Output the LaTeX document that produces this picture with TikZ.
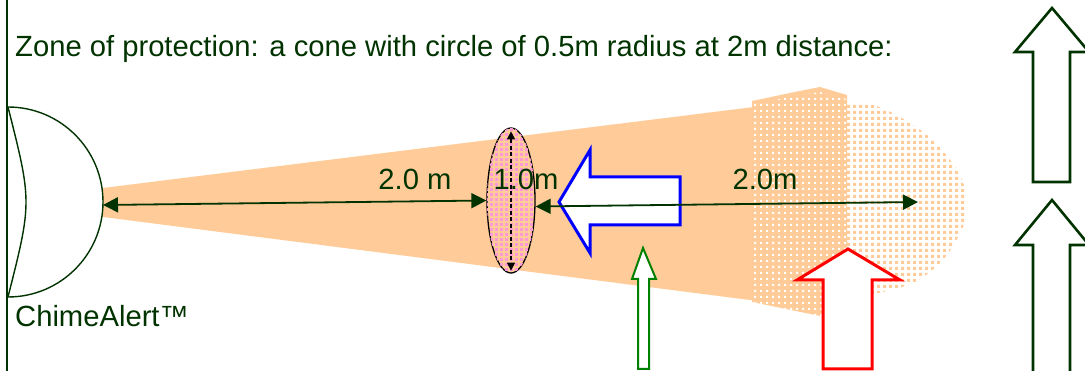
\documentclass[tikz,border=0pt]{standalone}
\usepackage{fontspec}
\setmainfont{Liberation Sans}
\usetikzlibrary{arrows.meta,shapes.geometric,patterns.meta}
\definecolor{peach}{RGB}{255,204,153}
\definecolor{dkgreen}{RGB}{0,51,0}
\definecolor{pinkdot}{RGB}{255,153,214}
\definecolor{okgreen}{RGB}{0,128,0}
\tikzdeclarepattern{name=holes, type=uncolored,
  bounding box={(0pt,0pt) and (5.5pt,5.5pt)}, tile size={(5.5pt,5.5pt)},
  code={\fill (0pt,0pt) rectangle (2.4pt,2.4pt);}}
\tikzdeclarepattern{name=bigdots, type=uncolored,
  bounding box={(0pt,0pt) and (5.5pt,5.5pt)}, tile size={(5.5pt,5.5pt)},
  code={\fill (0pt,0pt) rectangle (3.5pt,3.5pt);}}
\tikzdeclarepattern{name=middots, type=uncolored,
  bounding box={(0pt,0pt) and (5pt,5pt)}, tile size={(5pt,5pt)},
  code={\fill (0pt,0pt) rectangle (3.5pt,3.5pt);}}
\begin{document}
\begin{tikzpicture}[x=1pt,y=-1pt,
  font=\fontsize{29.2}{33}\selectfont,
  label/.style={text=dkgreen, inner sep=0pt},
  dim/.style={draw=dkgreen, line width=1.8pt,
    arrows={Triangle[length=15pt,width=15pt]-Triangle[length=15pt,width=15pt]}},
  blockarrow/.style={fill=white, line join=miter},
]
\useasboundingbox (0,0) rectangle (1085,371);
% cone
\fill[peach] (8,199.8) -- (752,107.2) -- (752,300.3) -- (8,204.8) -- cycle;
% dense dotted block
\fill[peach] (752,101) -- (790,93) -- (820,87) -- (847,95) -- (847,318) -- (820,316) -- (752,302) -- cycle;
\fill[pattern=holes, pattern color=white] (752,104) -- (790,97) -- (820,92) -- (846,99) -- (846,318) -- (820,316) -- (752,302) -- cycle;
% sparse dome
\fill[pattern=bigdots, pattern color=peach] plot[smooth] coordinates {(847,104) (873,105) (900,117) (933,140) (957,170) (967,198) (963,227) (943,260) (913,283) (873,294) (847,296)} -- cycle;
% left wall
\draw[dkgreen, line width=1.6pt] (7,0) -- (7,371);
% sensor
\draw[dkgreen, line width=1.4pt, fill=white] (8,107) arc[start angle=-90, end angle=90, radius=95];
\draw[dkgreen, line width=1.4pt] (8,107) .. controls (32,202) .. (8,297);
\coordinate (sensortip) at (103,205);
% lens of protection
\node[ellipse, draw=black, line width=1.3pt, minimum width=48pt, minimum height=145pt,
  inner sep=0pt, fill=peach, postaction={pattern=middots, pattern color=pinkdot}] (lens) at (511,200.5) {};
% blue arrow
\draw[blockarrow, draw=blue, line width=3pt] (559,202) -- (590,150) -- (590,177) -- (680,177) -- (680,225) -- (590,225) -- (590,253) -- cycle;
% green arrow
\draw[blockarrow, draw=okgreen, line width=2pt] (643,248) -- (656,279) -- (649,279) -- (649,369) -- (638,369) -- (638,279) -- (632,279) -- cycle;
% red arrow
\draw[blockarrow, draw=red, line width=3pt] (848,249) -- (900,280) -- (872,280) -- (872,369) -- (823,369) -- (823,280) -- (797,280) -- cycle;
% right dark green arrows
\draw[blockarrow, draw=dkgreen, line width=2.6pt] (1052,8) -- (1089,52) -- (1070,52) -- (1070,182) -- (1033,182) -- (1033,52) -- (1015,52) -- cycle;
\draw[blockarrow, draw=dkgreen, line width=2.6pt] (1052,200) -- (1089,245) -- (1070,245) -- (1070,385) -- (1033,385) -- (1033,245) -- (1015,245) -- cycle;
% texts
\node[label, anchor=base west] (title) at (15,57) {Zone of protection: a cone with circle of 0.5m radius at 2m distance:};
\node[label, anchor=base west] (brand) at (15,327) {ChimeAlert™};
\node[label, anchor=base] (d1) at (415,190) {2.0 m};
\node[label, anchor=base] (d2) at (526,190) {1.0m};
\node[label, anchor=base] (d3) at (765,190) {2.0m};
% diameter
\draw[black, line width=1.2pt, dash pattern=on 4pt off 2.5pt,
  arrows={Triangle[length=8pt,width=8pt]-Triangle[length=8pt,width=8pt]}]
  ([yshift=-4pt]lens.north) -- ([yshift=3pt]lens.south);
% distance lines
\coordinate (farend) at (918,202);
\draw[dim] (sensortip) -- (lens.west);
\draw[dim] ([yshift=-6pt]lens.east) -- (farend);
\end{tikzpicture}
\end{document}
